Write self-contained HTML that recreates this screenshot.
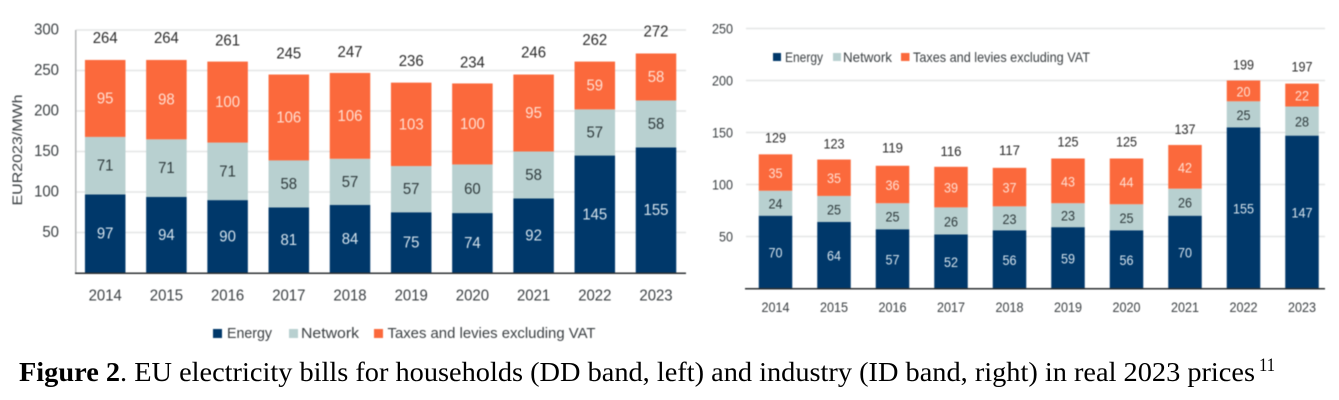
<!DOCTYPE html>
<html lang="en">
<head>
<meta charset="utf-8">
<title>EU electricity bills for households and industry</title>
<style>
html,body{margin:0;padding:0;background:#fff;width:1339px;height:400px;overflow:hidden}
svg{display:block}
text{font-family:"Liberation Sans",sans-serif}
.soft{filter:blur(.45px)}
.lg{font-size:15px;fill:#3a3f42}
.lg2{font-size:14px;fill:#3a3f42}
.cap{font-family:"Liberation Serif",serif;fill:#000}
</style>
</head>
<body>
<svg id="figure" width="1339" height="400" viewBox="0 0 1339 400" xmlns="http://www.w3.org/2000/svg">
  <g id="left-chart" class="soft"></g>
  <g id="right-chart" class="soft"></g>

  <text class="soft" transform="translate(22,150) rotate(-90)" text-anchor="middle" font-size="14" fill="#3a3f42" textLength="111" lengthAdjust="spacingAndGlyphs">EUR2023/MWh</text>

  <g class="soft">
    <g><rect x="213" y="329" width="9" height="9" fill="#00386a"/><text class="lg" x="227" y="338" textLength="45" lengthAdjust="spacingAndGlyphs">Energy</text></g>
    <g><rect x="289" y="329" width="9" height="9" fill="#b8d0d0"/><text class="lg" x="301" y="338" textLength="58" lengthAdjust="spacingAndGlyphs">Network</text></g>
    <g><rect x="374" y="329" width="9" height="9" fill="#fb693c"/><text class="lg" x="387.5" y="338" textLength="208" lengthAdjust="spacingAndGlyphs">Taxes and levies excluding VAT</text></g>
  </g>

  <g class="soft">
    <g><rect x="773" y="53" width="8" height="8" fill="#00386a"/><text class="lg2" x="785" y="62" textLength="38" lengthAdjust="spacingAndGlyphs">Energy</text></g>
    <g><rect x="833" y="53" width="8" height="8" fill="#b8d0d0"/><text class="lg2" x="843" y="62" textLength="49" lengthAdjust="spacingAndGlyphs">Network</text></g>
    <g><rect x="901" y="53" width="8.5" height="8" fill="#fb693c"/><text class="lg2" x="913" y="62" textLength="177" lengthAdjust="spacingAndGlyphs">Taxes and levies excluding VAT</text></g>
  </g>

  <g>
    <text class="cap" x="19" y="381" font-size="27.5" textLength="1236" lengthAdjust="spacingAndGlyphs"><tspan font-weight="bold">Figure 2</tspan>. EU electricity bills for households (DD band, left) and industry (ID band, right) in real 2023 prices</text>
    <text class="cap" x="1259" y="371" font-size="19" textLength="16" lengthAdjust="spacingAndGlyphs">11</text>
  </g>
</svg>

<script>
const years = ['2014','2015','2016','2017','2018','2019','2020','2021','2022','2023'];

const householdEnergy  = [97,94,90,81,84,75,74,92,145,155];
const householdNetwork = [71,71,71,58,57,57,60,58,57,58];
const householdTaxes   = [95,98,100,106,106,103,100,95,59,58];
const householdTotals  = [264,264,261,245,247,236,234,246,262,272];
const householdTicks   = [50,100,150,200,250,300];

const industryEnergy  = [70,64,57,52,56,59,56,70,155,147];
const industryNetwork = [24,25,25,26,23,23,25,26,25,28];
const industryTaxes   = [35,35,36,39,37,43,44,42,20,22];
const industryTotals  = [129,123,119,116,117,125,125,137,199,197];
const industryTicks   = [50,100,150,200,250];

const NS = 'http://www.w3.org/2000/svg';

function addRect(parent, x, y, w, h, fill) {
  const el = document.createElementNS(NS, 'rect');
  el.setAttribute('x', x);
  el.setAttribute('y', y);
  el.setAttribute('width', w);
  el.setAttribute('height', h);
  el.setAttribute('fill', fill);
  parent.appendChild(el);
  return el;
}

function addText(parent, x, y, str, size, fill, anchor, digitWidth) {
  const el = document.createElementNS(NS, 'text');
  el.setAttribute('x', x);
  el.setAttribute('y', y);
  el.setAttribute('font-size', size);
  el.setAttribute('fill', fill);
  el.setAttribute('text-anchor', anchor);
  el.setAttribute('dominant-baseline', 'central');
  el.setAttribute('textLength', String(str).length * digitWidth);
  el.setAttribute('lengthAdjust', 'spacingAndGlyphs');
  el.textContent = str;
  parent.appendChild(el);
  return el;
}

function drawChart(root, opt, energy, network, taxes, totals, ticks) {
  const yScale = v => opt.y0 - v * opt.pxPerUnit;
  const xScale = i => opt.firstCenter + i * opt.step;

  ticks.forEach(t => {
    const grid = addRect(root, opt.gridLeft, yScale(t) - 0.75, opt.gridRight - opt.gridLeft, 1.5, '#e4e5e5');
    
    
    const lab = addText(root, opt.tickRight, yScale(t), t, opt.font, '#3a3f42', 'end', opt.digit);
    
    
  });

  if (opt.leftAxis) {
    const yAxis = addRect(root, opt.gridLeft - 1, yScale(300), 1.5, opt.y0 - yScale(300), '#b5b7b8');
    
    
  }

  years.forEach((yr, i) => {
    const cx = xScale(i);
    const left = cx - opt.barWidth / 2;
    const segments = [
      {name: 'energy',  value: energy[i],  fill: '#00386a', ink: '#d5e3ec'},
      {name: 'network', value: network[i], fill: '#b8d0d0', ink: '#2f3b3d'},
      {name: 'taxes',   value: taxes[i],   fill: '#fb693c', ink: '#ffdfd2'}
    ];
    let base = 0;
    segments.forEach(s => {
      const top = yScale(base + s.value);
      const bar = addRect(root, left, top, opt.barWidth, yScale(base) - top, s.fill);
      
      
      const val = addText(root, cx, yScale(base + s.value / 2) + 0.5, s.value, opt.font, s.ink, 'middle', opt.digit);
      
      
      base += s.value;
    });

    const total = addText(root, cx, yScale(totals[i]) - opt.lift, totals[i], opt.font, '#2b2b2b', 'middle', opt.digit);
    
    

    const yearLab = addText(root, cx, opt.y0 + opt.yearOffset, yr, opt.font, '#3a3f42', 'middle', opt.digit);
    
    
  });

  const xAxis = addRect(root, opt.gridLeft - 1, opt.y0 - 0.5, opt.gridRight - opt.gridLeft + 1, 1.5, '#2c3033');
  
  
}

drawChart(document.getElementById('left-chart'), {
  y0: 273, pxPerUnit: 0.81, firstCenter: 105.2, step: 61.2, barWidth: 40.5,
  gridLeft: 76, gridRight: 686, tickRight: 59, font: 15.5, digit: 8.3,
  lift: 20.5, yearOffset: 23, leftAxis: true
}, householdEnergy, householdNetwork, householdTaxes, householdTotals, householdTicks);

drawChart(document.getElementById('right-chart'), {
  y0: 288.5, pxPerUnit: 1.04, firstCenter: 775.5, step: 58.5, barWidth: 33.5,
  gridLeft: 746, gridRight: 1325, tickRight: 733, font: 14, digit: 7,
  lift: 17, yearOffset: 18.5, leftAxis: false
}, industryEnergy, industryNetwork, industryTaxes, industryTotals, industryTicks);
</script>
</body>
</html>
